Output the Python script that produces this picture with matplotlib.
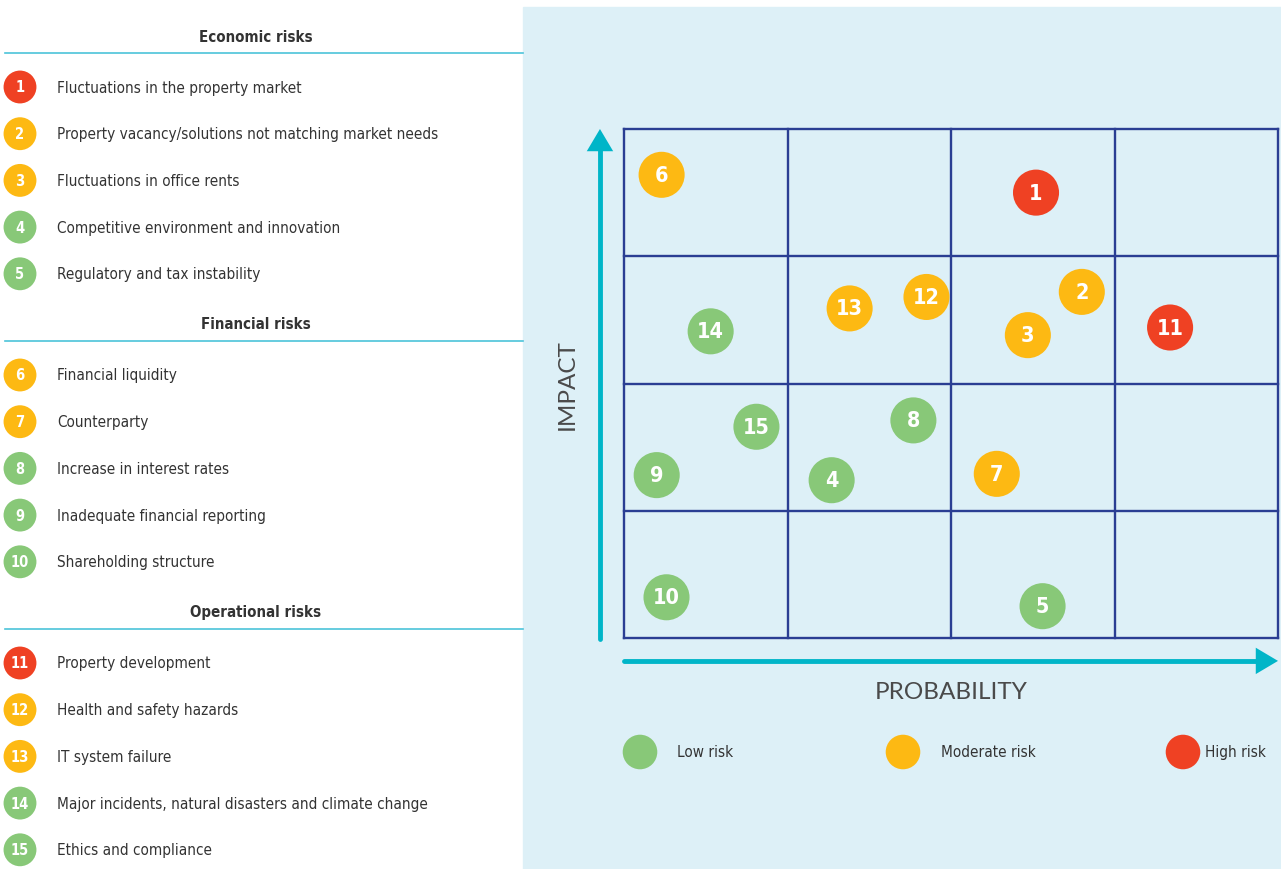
import matplotlib
matplotlib.use("Agg")
import matplotlib.pyplot as plt
from matplotlib import font_manager

# look for a condensed face, the reference uses a narrow sans
cond = None
cond_bold = None
for f in font_manager.fontManager.ttflist:
    fn = f.fname.lower()
    if "dejavusanscondensed.ttf" in fn:
        cond = f.fname
    if "dejavusanscondensed-bold.ttf" in fn:
        cond_bold = f.fname
fp = font_manager.FontProperties(fname=cond) if cond else font_manager.FontProperties(family="DejaVu Sans", stretch="condensed")
fpb = font_manager.FontProperties(fname=cond_bold) if cond_bold else font_manager.FontProperties(family="DejaVu Sans", weight="bold", stretch="condensed")
wide = "Lato"

# risk register
groups = ["Economic risks", "Financial risks", "Operational risks"]
risk_ids = list(range(1, 16))
risk_names = [
    "Fluctuations in the property market",
    "Property vacancy/solutions not matching market needs",
    "Fluctuations in office rents",
    "Competitive environment and innovation",
    "Regulatory and tax instability",
    "Financial liquidity",
    "Counterparty",
    "Increase in interest rates",
    "Inadequate financial reporting",
    "Shareholding structure",
    "Property development",
    "Health and safety hazards",
    "IT system failure",
    "Major incidents, natural disasters and climate change",
    "Ethics and compliance",
]
levels = ["high", "moderate", "moderate", "low", "low",
          "moderate", "moderate", "low", "low", "low",
          "high", "moderate", "moderate", "low", "low"]
# position on the matrix, in grid cells (0-4)
probability = [2.52, 2.80, 2.47, 1.27, 2.56, 0.23, 2.28, 1.77, 0.20, 0.26, 3.34, 1.85, 1.38, 0.53, 0.81]
impact = [3.50, 2.72, 2.38, 1.24, 0.25, 3.64, 1.29, 1.71, 1.28, 0.32, 2.44, 2.68, 2.59, 2.41, 1.66]

legend_levels = ["low", "moderate", "high"]
legend_labels = ["Low risk", "Moderate risk", "High risk"]

colors = {"low": "#88c878", "moderate": "#fdb913", "high": "#ef4123"}
text_col = "#333333"
line_col = "#4cc3d9"
grid_col = "#2a3e93"
arrow_col = "#00b5c8"
panel_col = "#ddf0f7"

W, H = 1281, 870
fig = plt.figure(figsize=(W / 100, H / 100), dpi=100)

# background canvas in pixel units
bg = fig.add_axes([0, 0, 1, 1])
bg.set_xlim(0, W)
bg.set_ylim(H, 0)
bg.axis("off")
bg.add_patch(plt.Rectangle((523, 8), W - 523, H - 8, color=panel_col, zorder=0))

# left list
header_y = [37, 325, 613]
item_step = 46.7
for g, hy in enumerate(header_y):
    bg.text(256, hy, groups[g], ha="center", va="center", fontproperties=fpb,
            fontsize=10.8, color=text_col)
    bg.plot([5, 523], [hy + 17, hy + 17], color=line_col, lw=1.2)
    for k in range(5):
        i = g * 5 + k
        y = hy + 51 + k * item_step
        bg.scatter(20, y, s=560, color=colors[levels[i]], edgecolors="none", zorder=3)
        bg.text(20, y, str(risk_ids[i]), ha="center", va="center", fontproperties=fpb,
                fontsize=10.5, color="white", zorder=4)
        bg.text(57, y, risk_names[i], ha="left", va="center", fontproperties=fp,
                fontsize=11, color=text_col)

# legend
legend_x = [640, 903, 1183]
text_dx = [37, 38, 22]
for lx, dx, lv, lab in zip(legend_x, text_dx, legend_levels, legend_labels):
    bg.scatter(lx, 753, s=620, color=colors[lv], edgecolors="none")
    bg.text(lx + dx, 753, lab, ha="left", va="center", fontproperties=fp,
            fontsize=11, color=text_col)

# risk matrix
ax = fig.add_axes([624 / W, (H - 639) / H, 654 / W, 509 / H])
ax.set_xlim(0, 4)
ax.set_ylim(0, 4)
ax.set_facecolor("none")
for s in ax.spines.values():
    s.set_visible(False)
ax.set_xticks([])
ax.set_yticks([])
for v in range(5):
    ax.plot([v, v], [0, 4], color=grid_col, lw=1.7, clip_on=False)
    ax.plot([0, 4], [v, v], color=grid_col, lw=1.7, clip_on=False)

ax.scatter(probability, impact, s=1100, c=[colors[l] for l in levels],
           edgecolors="none", zorder=3, clip_on=False)
for i in range(len(risk_ids)):
    ax.text(probability[i], impact[i], str(risk_ids[i]), ha="center", va="center",
            fontproperties=fpb, fontsize=15.5, color="white", zorder=4)

# axis arrows: shaft + sharp filled head
head = "-|>,head_length=1.6,head_width=0.95"
ax.plot([-0.147, -0.147], [-0.01, 3.85], color=arrow_col, lw=3.5,
        solid_capstyle="round", clip_on=False)
ax.annotate("", xy=(-0.147, 4.0), xytext=(-0.147, 3.0),
            arrowprops=dict(arrowstyle=head, color=arrow_col, lw=0,
                            shrinkA=0, shrinkB=0),
            annotation_clip=False)
ax.plot([0, 3.9], [-0.18, -0.18], color=arrow_col, lw=3.5,
        solid_capstyle="round", clip_on=False)
ax.annotate("", xy=(4.0, -0.18), xytext=(3.0, -0.18),
            arrowprops=dict(arrowstyle=head, color=arrow_col, lw=0,
                            shrinkA=0, shrinkB=0),
            annotation_clip=False)
ax.text(-0.35, 2.0, "IMPACT", rotation=90, ha="center", va="center",
        fontsize=17.5, family=wide, color="#4a4a4a")
ax.text(2.0, -0.42, "PROBABILITY", ha="center", va="center",
        fontsize=17.5, family=wide, color="#4a4a4a")

fig.savefig("out.png", dpi=100)
